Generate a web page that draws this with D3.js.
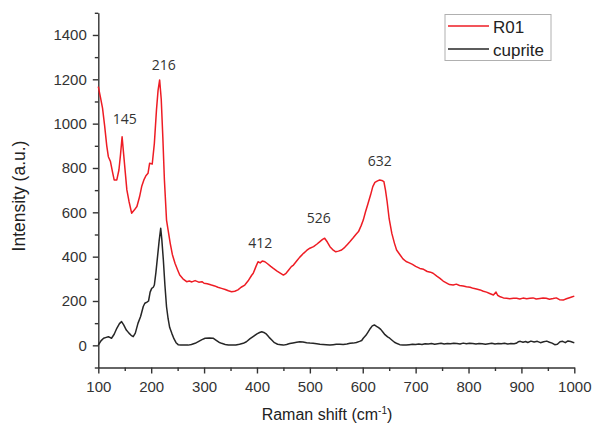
<!DOCTYPE html>
<html>
<head>
<meta charset="utf-8">
<script src="https://cdn.jsdelivr.net/npm/d3@7"></script>
<style>
  body { margin: 0; background: #fff; }
  svg { display: block; }
</style>
</head>
<body>
<script>
const wSvg = 592, hSvg = 427;

// R01 spectrum (Raman shift, intensity)
const r01Shift = [100,104,108,112,116,119,123,127,130,135,139,142,145,148,151,154,158,163,168,173,178,182,186,190,194,197,202,206,210,213,216,219,222,225,229,232,236,240,245,250,254,260,267,272,277,283,290,296,300,306,314,320,326,333,340,346,352,358,364,370,377,383,390,393,398,402,406,410,415,420,426,431,438,444,450,455,460,465,469,475,481,488,494,500,507,513,519,524,528,533,538,543,549,554,560,566,571,576,582,587,592,597,601,605,610,615,619,623,628,632,636,640,643,646,650,655,660,664,670,676,682,688,694,700,708,715,722,728,733,740,746,752,758,764,771,777,783,790,796,803,809,815,822,828,834,840,847,852,855,860,866,872,878,885,891,897,903,910,916,922,928,935,941,947,953,960,966,972,979,985,991,995,1000];
const r01Int = [1167,1120,1070,990,900,851,829,780,746,746,791,860,941,860,780,701,650,596,610,626,670,716,745,765,776,821,818,911,1062,1150,1197,1110,940,746,565,520,460,410,370,340,317,300,287,290,286,292,285,287,280,278,272,268,262,257,252,246,242,244,250,262,272,290,316,325,355,377,372,380,377,368,356,347,335,326,317,325,340,355,362,380,398,415,428,438,445,456,468,478,483,466,445,432,422,425,430,442,455,468,485,500,513,540,565,600,640,680,716,735,742,746,744,738,700,650,570,505,460,430,410,390,378,372,365,356,347,343,333,330,325,312,302,290,282,274,272,276,270,268,264,262,257,254,250,244,240,234,227,240,226,219,214,212,210,212,212,209,213,210,212,214,209,211,213,212,208,211,214,206,204,210,215,218,222];

// cuprite reference spectrum
const cupShift = [100,105,110,115,119,125,130,135,140,144,148,153,158,162,166,170,175,180,185,188,192,195,198,201,204,206,209,212,215,218,220,223,226,229,232,235,239,243,247,251,256,262,270,276,283,290,296,302,310,317,323,328,333,340,346,352,360,367,374,380,387,394,400,405,409,413,418,423,428,433,439,445,450,456,462,468,475,481,487,494,500,506,513,519,525,531,538,544,550,557,563,570,576,582,588,594,598,601,606,610,614,618,622,626,630,634,638,642,647,651,656,660,665,670,676,682,688,694,700,706,712,718,724,730,736,742,748,754,760,766,772,778,784,790,796,802,808,814,820,826,832,838,844,850,856,862,868,874,880,886,890,894,898,903,908,912,918,924,930,936,942,948,953,958,963,968,973,978,983,988,993,997,1000];
const cupInt = [1,20,32,36,39,32,50,77,98,107,92,69,55,45,39,55,99,130,175,190,195,200,240,257,262,272,330,400,470,528,480,385,270,174,120,80,54,30,12,3,1,2,1,4,9,18,26,32,33,32,22,14,9,4,2,1,2,5,9,16,30,42,52,58,61,58,50,36,24,12,5,3,1,4,8,11,14,16,15,12,10,9,7,5,4,3,1,3,5,5,4,6,9,10,13,18,22,32,45,60,75,88,92,86,80,72,60,48,38,32,22,14,8,3,2,1,3,5,4,6,4,7,6,8,5,7,9,6,8,7,9,8,6,10,7,9,8,6,8,7,5,7,9,6,8,7,9,6,8,7,9,16,18,14,17,13,19,15,18,12,16,19,14,10,3,5,16,18,12,20,17,14,12];

const peakText = ["145", "216", "412", "526", "632"];
const peakAtX = [150, 224, 406, 517, 632];
const peakAtY = [998, 1240, 439, 554, 807];

const seriesNames = ["R01", "cuprite"];
const seriesColors = ["#ee1c24", "#262626"];

const xTicks = d3.range(100, 1001, 100);
const xMinor = d3.range(150, 1000, 100);
const yTicks = d3.range(0, 1401, 200);
const yMinor = d3.range(-100, 1501, 200);

const svg = d3.select("body").append("svg")
    .attr("width", wSvg)
    .attr("height", hSvg);

const x = d3.scaleLinear().domain([100, 1000]).range([98.3, 574.3]);
const y = d3.scaleLinear().domain([-100, 1500]).range([367.5, 12.8]);

const axisColor = "#333";
const tickFont = "Liberation Sans, Arial, sans-serif";

// minor ticks first, then major axes on top
svg.append("g")
    .attr("transform", `translate(0, ${y(-100)})`)
    .call(d3.axisBottom(x).tickValues(xMinor).tickSize(3.5).tickFormat(""))
    .call(g => g.select(".domain").remove());
svg.append("g")
    .attr("transform", `translate(${x(100)}, 0)`)
    .call(d3.axisLeft(y).tickValues(yMinor).tickSize(3.5).tickFormat(""))
    .call(g => g.select(".domain").remove());

let gx = svg.append("g")
    .attr("transform", `translate(0, ${y(-100)})`)
    .call(d3.axisBottom(x).tickValues(xTicks).tickFormat(d3.format("d"))
        .tickSize(6).tickSizeOuter(0).tickPadding(8));
let gy = svg.append("g")
    .attr("transform", `translate(${x(100)}, 0)`)
    .call(d3.axisLeft(y).tickValues(yTicks).tickFormat(d3.format("d"))
        .tickSize(5.5).tickSizeOuter(0).tickPadding(6));

svg.selectAll(".tick line, .domain")
    .attr("stroke", axisColor)
    .attr("stroke-width", 1.4);
svg.selectAll(".tick text")
    .attr("fill", axisColor)
    .style("font-family", tickFont)
    .style("font-size", "15px");

// curves
const line = d3.line()
    .x(d => x(d[0]))
    .y(d => y(d[1]));

const cupData = cupShift.map((s, i) => [s, cupInt[i]]);
const r01Data = r01Shift.map((s, i) => [s, r01Int[i]]);

svg.append("path")
    .datum(cupData)
    .attr("d", line)
    .attr("fill", "none")
    .attr("stroke", seriesColors[1])
    .attr("stroke-width", 1.5)
    .attr("stroke-linejoin", "round");

svg.append("path")
    .datum(r01Data)
    .attr("d", line)
    .attr("fill", "none")
    .attr("stroke", seriesColors[0])
    .attr("stroke-width", 1.5)
    .attr("stroke-linejoin", "round");

// peak labels
svg.selectAll(".peak")
    .data(peakText)
    .enter()
    .append("text")
    .attr("class", "peak")
    .attr("x", (d, i) => x(peakAtX[i]))
    .attr("y", (d, i) => y(peakAtY[i]))
    .attr("text-anchor", "middle")
    .attr("fill", "#333")
    .style("font-family", "Open Sans, sans-serif")
    .style("font-size", "14px")
    .text(d => d);

// axis titles
const xTitle = svg.append("text")
    .attr("x", 327)
    .attr("y", 420)
    .attr("text-anchor", "middle")
    .attr("fill", "#222")
    .style("font-family", tickFont)
    .style("font-size", "16px");
xTitle.append("tspan").text("Raman shift (cm");
xTitle.append("tspan").attr("dy", -6).style("font-size", "10px").text("-1");
xTitle.append("tspan").attr("dy", 6).text(")");

svg.append("text")
    .attr("transform", "translate(25, 196) rotate(-90)")
    .attr("text-anchor", "middle")
    .attr("fill", "#222")
    .style("font-family", tickFont)
    .style("font-size", "17.5px")
    .text("Intensity (a.u.)");

// legend
const legend = svg.append("g");
legend.append("rect")
    .attr("x", 445)
    .attr("y", 14.5)
    .attr("width", 106)
    .attr("height", 46)
    .attr("fill", "#fff")
    .attr("stroke", "#b0b0b0")
    .attr("stroke-width", 1);

seriesNames.forEach((name, i) => {
    let ly = 26 + i * 23;
    legend.append("line")
        .attr("x1", 448)
        .attr("x2", 489)
        .attr("y1", ly)
        .attr("y2", ly)
        .attr("stroke", seriesColors[i])
        .attr("stroke-width", 1.5);
    legend.append("text")
        .attr("x", 493)
        .attr("y", ly + 6.5)
        .attr("fill", "#222")
        .style("font-family", tickFont)
        .style("font-size", "17px")
        .text(name);
});
</script>
</body>
</html>
